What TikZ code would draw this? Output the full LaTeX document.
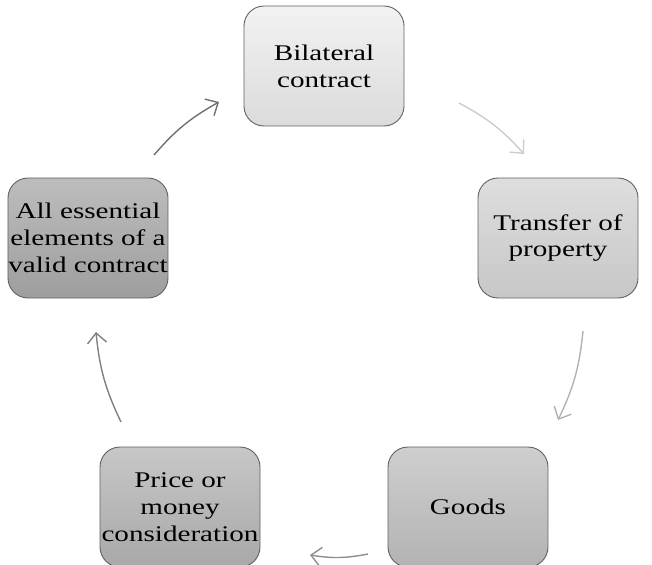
\documentclass[tikz,border=0pt]{standalone}
\usepackage{fontspec}
\setmainfont[FakeStretch=1.3]{Liberation Serif}
\usetikzlibrary{arrows.meta}
\definecolor{bt}{gray}{0.95}\definecolor{bb}{gray}{0.86}
\definecolor{tt}{gray}{0.87}\definecolor{tb}{gray}{0.78}
\definecolor{gt}{gray}{0.81}\definecolor{gb}{gray}{0.70}
\definecolor{pt}{gray}{0.78}\definecolor{pb}{gray}{0.66}
\definecolor{at}{gray}{0.74}\definecolor{ab}{gray}{0.62}
\definecolor{c1}{gray}{0.80}\definecolor{c2}{gray}{0.70}
\definecolor{c3}{gray}{0.56}\definecolor{c4}{gray}{0.50}
\definecolor{c5}{gray}{0.44}
\begin{document}
\begin{tikzpicture}[x=1bp,y=-1bp,
  box/.style={rounded corners=20bp, draw=black!62, line width=0.9bp,
    minimum width=160bp, minimum height=120bp, inner sep=0pt, align=center,
    font=\fontsize{22.5}{27}\selectfont},
  arr/.style={line width=1.4bp, -{Straight Barb[length=10bp,width=19bp]}, bend left=10}
]
\useasboundingbox (0,0) rectangle (652,565);
\clip (0,0) rectangle (652,565);
\node[box, top color=bt, bottom color=bb] (bil) at (324,66) {Bilateral\\contract};
\node[box, top color=tt, bottom color=tb] (tra) at (558,238) {Transfer of\\property};
\node[box, top color=gt, bottom color=gb] (goo) at (468,507) {Goods};
\node[box, top color=pt, bottom color=pb] (pri) at (180,507) {Price or\\money\\consideration};
\node[box, top color=at, bottom color=ab] (all) at (88,238) {All essential\\elements of a\\valid contract};
\coordinate (a1s) at (459,103); \coordinate (a1e) at (524,154);
\coordinate (a2s) at (583,331); \coordinate (a2e) at (558,420);
\coordinate (a3s) at (368,554); \coordinate (a3e) at (310,555);
\coordinate (a4s) at (121,422); \coordinate (a4e) at (96,332);
\coordinate (a5s) at (154,155); \coordinate (a5e) at (219,102);
\draw[arr, c1] (a1s) to (a1e);
\draw[arr, c2] (a2s) to (a2e);
\draw[arr, c3] (a3s) to (a3e);
\draw[arr, c4] (a4s) to (a4e);
\draw[arr, c5] (a5s) to (a5e);
\end{tikzpicture}
\end{document}
